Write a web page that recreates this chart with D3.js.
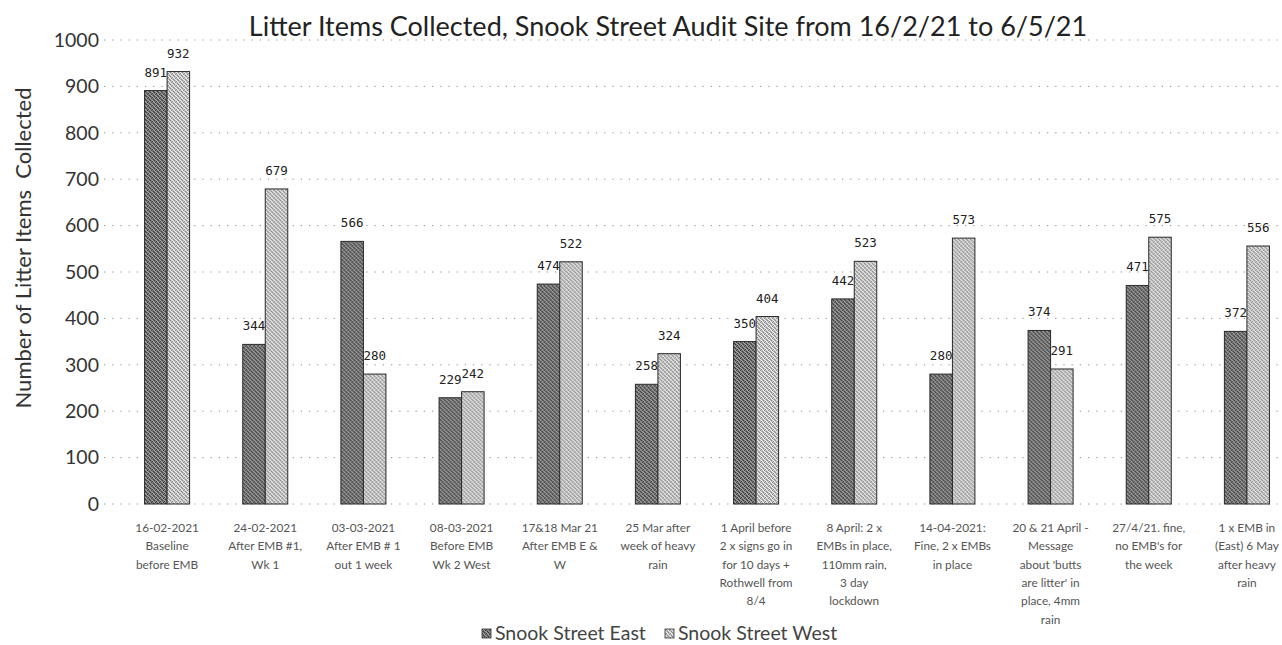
<!DOCTYPE html>
<html>
<head>
<meta charset="utf-8">
<script src="https://cdn.jsdelivr.net/npm/d3@7"></script>
<style>
  html, body { margin: 0; padding: 0; background: #fff; }
  svg { display: block; }
</style>
</head>
<body>
<svg id="chart" width="1282" height="645"></svg>
<script>
// Category labels (one array entry per wrapped line)
const categories = [
  ["16-02-2021", "Baseline", "before EMB"],
  ["24-02-2021", "After EMB #1,", "Wk 1"],
  ["03-03-2021", "After EMB # 1", "out 1 week"],
  ["08-03-2021", "Before EMB", "Wk 2 West"],
  ["17&18 Mar 21", "After EMB E &", "W"],
  ["25 Mar after", "week of heavy", "rain"],
  ["1 April before", "2 x signs go in", "for 10 days +", "Rothwell from", "8/4"],
  ["8 April: 2 x", "EMBs in place,", "110mm rain,", "3 day", "lockdown"],
  ["14-04-2021:", "Fine, 2 x EMBs", "in place"],
  ["20 & 21 April -", "Message", "about 'butts", "are litter' in", "place, 4mm", "rain"],
  ["27/4/21. fine,", "no EMB's for", "the week"],
  ["1 x EMB in", "(East) 6 May", "after heavy", "rain"]
];
const seriesNames = ["Snook Street East", "Snook Street West"];
const eastValues = [891, 344, 566, 229, 474, 258, 350, 442, 280, 374, 471, 372];
const westValues = [932, 679, 280, 242, 522, 324, 404, 523, 573, 291, 575, 556];
const yTicks = [0, 100, 200, 300, 400, 500, 600, 700, 800, 900, 1000];

const title = "Litter Items Collected, Snook Street Audit Site from 16/2/21 to 6/5/21";
const yTitle = "Number of Litter Items  Collected";

const svg = d3.select("#chart");
const W = 1282, H = 645;
const textFont = "Lato, 'Open Sans', sans-serif";

// Dithered fills for the two series
const defs = svg.append("defs");
function dither(id, base, dark, light) {
  const p = defs.append("pattern").attr("id", id)
    .attr("width", 4).attr("height", 4).attr("patternUnits", "userSpaceOnUse");
  p.append("rect").attr("width", 4).attr("height", 4).attr("fill", base);
  [[0,0],[2,1],[1,2],[3,3]].forEach(([x,y]) =>
    p.append("rect").attr("x", x).attr("y", y).attr("width", 1).attr("height", 1).attr("fill", dark));
  [[2,0],[0,2],[3,1],[1,3]].forEach(([x,y]) =>
    p.append("rect").attr("x", x).attr("y", y).attr("width", 1).attr("height", 1).attr("fill", light));
}
dither("fillEast", "#767676", "#3a3a3a", "#a6a6a6");
dither("fillWest", "#c2c2c2", "#8a8a8a", "#eeeeee");
const fills = ["url(#fillEast)", "url(#fillWest)"];

// Scales
const x0 = d3.scaleBand().domain(d3.range(categories.length)).range([118, 1296]).padding(0);
const x1 = d3.scaleBand().domain(seriesNames).range([0, x0.bandwidth()]).paddingInner(0).paddingOuter(1.18);
const y = d3.scaleLinear().domain([0, 1000]).range([504, 40]);

// Gridlines
svg.append("g").selectAll("line").data(yTicks).join("line")
  .attr("x1", 104).attr("x2", W)
  .attr("y1", d => y(d)).attr("y2", d => y(d))
  .attr("stroke", "#8c8c8c").attr("stroke-width", 1)
  .attr("stroke-dasharray", "1.2,7");

// Y axis labels
const yAxis = d3.axisLeft(y).tickValues(yTicks).tickFormat(d3.format("d")).tickSize(0).tickPadding(0);
const gy = svg.append("g").attr("transform", "translate(99,0)").call(yAxis);
gy.select(".domain").remove();
gy.selectAll("text").attr("font-family", textFont).attr("font-size", 19.5).attr("fill", "#333");

// Y axis title
svg.append("text")
  .attr("transform", `translate(31,${248}) rotate(-90)`)
  .attr("text-anchor", "middle")
  .attr("font-family", textFont).attr("font-size", 22).attr("fill", "#333")
  .style("white-space", "pre")
  .text(yTitle);

// Chart title
svg.append("text")
  .attr("x", 668).attr("y", 36)
  .attr("text-anchor", "middle")
  .attr("font-family", textFont).attr("font-size", 27).attr("fill", "#222")
  .text(title);

// Bars
const rows = categories.map((c, i) => ({ i, vals: [eastValues[i], westValues[i]] }));
const groups = svg.append("g").selectAll("g").data(rows).join("g")
  .attr("transform", d => `translate(${x0(d.i)},0)`);

groups.selectAll("rect").data(d => d.vals.map((v, k) => ({ v, k }))).join("rect")
  .attr("x", d => x1(seriesNames[d.k]))
  .attr("y", d => y(d.v))
  .attr("width", x1.bandwidth())
  .attr("height", d => y(0) - y(d.v))
  .attr("fill", d => fills[d.k])
  .attr("stroke", "#2a2a2a").attr("stroke-width", 1);

// Value labels
groups.selectAll("text").data(d => d.vals.map((v, k) => ({ v, k }))).join("text")
  .attr("x", d => x1(seriesNames[d.k]) + x1.bandwidth() / 2)
  .attr("y", d => y(d.v) - 14)
  .attr("text-anchor", "middle")
  .attr("font-family", "'DejaVu Sans Mono', monospace").attr("font-size", 12.5).attr("fill", "#222")
  .text(d => d.v);

// Category labels
const gx = svg.append("g");
categories.forEach((lines, i) => {
  const t = gx.append("text")
    .attr("x", x0(i) + x0.bandwidth() / 2)
    .attr("y", 532)
    .attr("text-anchor", "middle")
    .attr("font-family", textFont).attr("font-size", 11.8).attr("fill", "#555");
  lines.forEach((ln, j) => {
    t.append("tspan").attr("x", x0(i) + x0.bandwidth() / 2).attr("y", 532 + j * 18.3).text(ln);
  });
});

// Legend
const legendX = [482, 665];
const lg = svg.append("g");
seriesNames.forEach((name, k) => {
  lg.append("rect").attr("x", legendX[k]).attr("y", 629).attr("width", 9).attr("height", 9)
    .attr("fill", fills[k]).attr("stroke", "#333").attr("stroke-width", 0.8);
  lg.append("text").attr("x", legendX[k] + 13).attr("y", 640)
    .attr("font-family", textFont).attr("font-size", 19.5).attr("fill", "#444")
    .text(name);
});
</script>
</body>
</html>
